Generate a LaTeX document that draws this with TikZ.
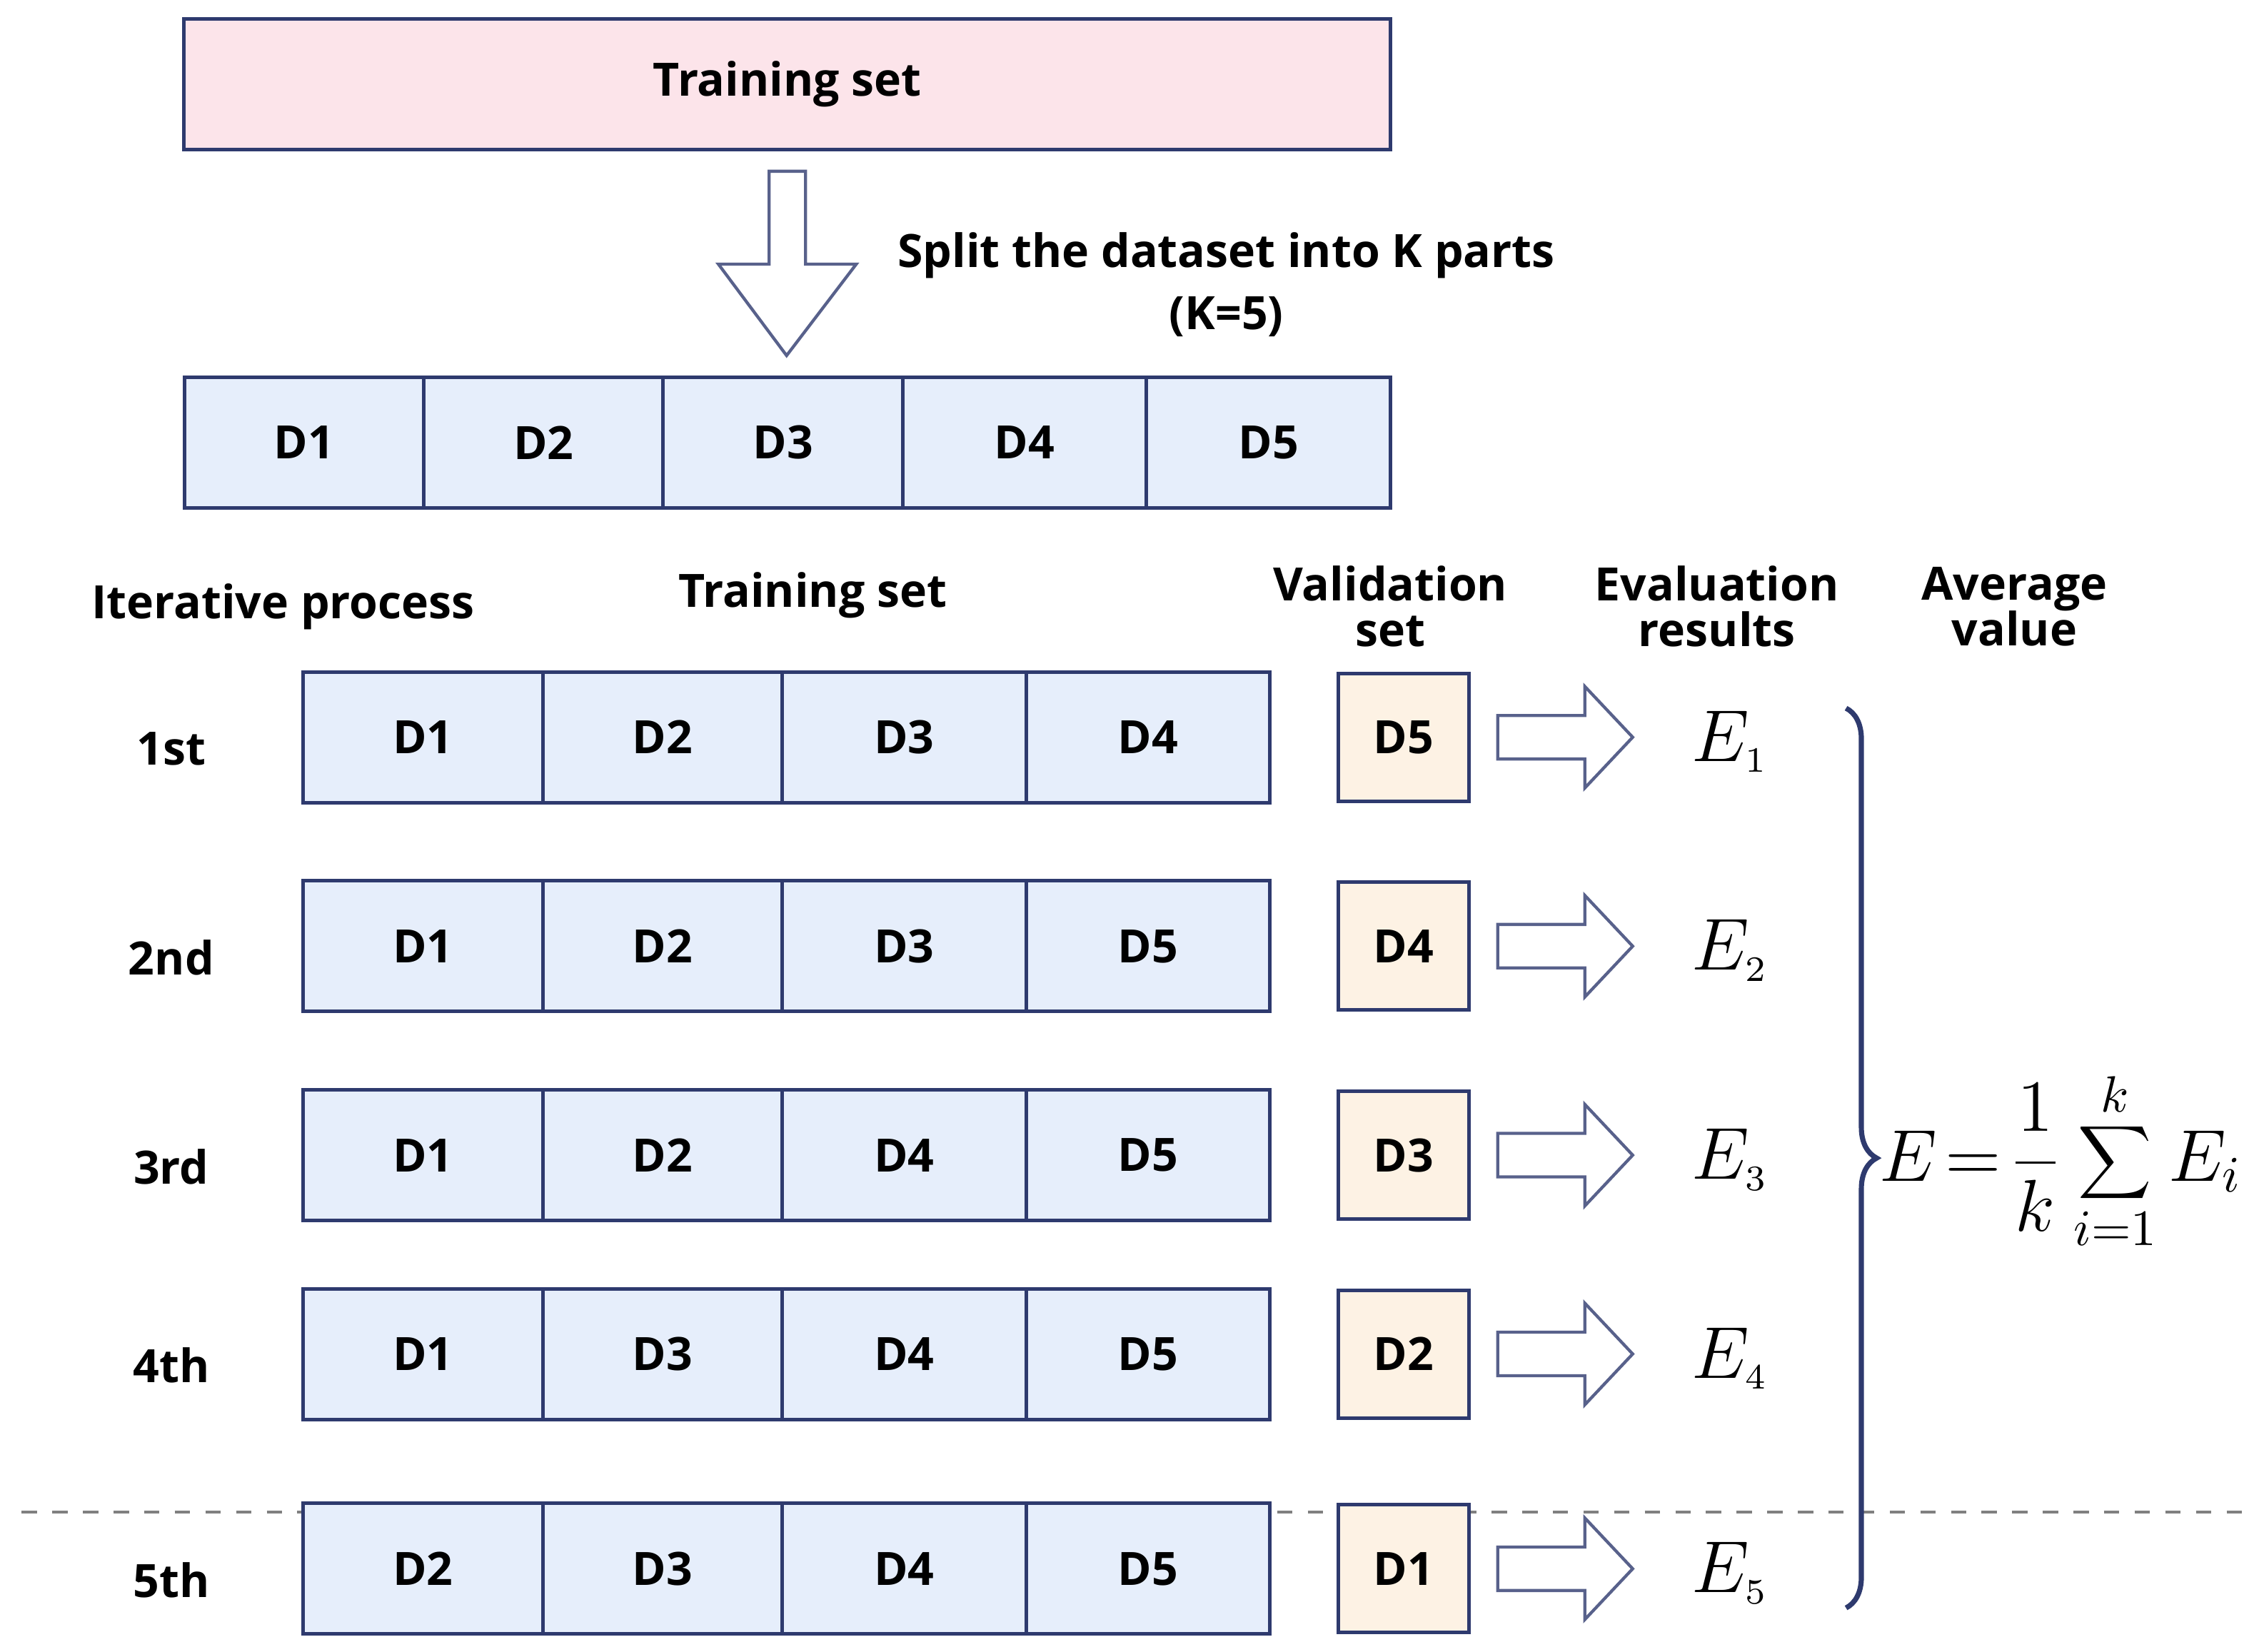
\documentclass[tikz,border=0pt]{standalone}
\usepackage{fontspec}
\setmainfont{Open Sans}
\usetikzlibrary{decorations.pathreplacing}
\definecolor{navy}{HTML}{2E3A6E}
\definecolor{pinkf}{HTML}{FCE4EA}
\definecolor{bluef}{HTML}{E6EEFB}
\definecolor{orf}{HTML}{FDF2E4}
\begin{document}
\begin{tikzpicture}[x=0.01cm,y=-0.01cm,
  txt/.style={font=\fontsize{9}{11}\selectfont\bfseries,align=center},
  cell/.style={draw=navy,line width=0.7pt,fill=bluef,minimum height=0.9cm,inner sep=0,font=\fontsize{9}{11}\selectfont\bfseries},
  val/.style={draw=navy,line width=0.7pt,fill=orf,minimum width=0.9cm,minimum height=0.88cm,inner sep=0,font=\fontsize{9}{11}\selectfont\bfseries},
  harrow/.style={draw=navy!80,line width=0.6pt,fill=white},
  ee/.style={font=\fontsize{14}{16}\selectfont}]
\useasboundingbox (0,0) rectangle (1560,1138);
\coordinate (dl) at (15,1042); \coordinate (dr) at (1555,1042);
\draw[gray,dashed,line width=0.5pt] (dl)--(dr);
\node[draw=navy,line width=0.7pt,fill=pinkf,minimum width=8.31cm,minimum height=0.9cm,font=\fontsize{9}{11}\selectfont\bfseries] (ts) at (542.5,58) {Training set};
\draw[harrow] (530,118)--(555,118)--(555,182)--(590,182)--(542,245)--(495,182)--(530,182)--cycle;
\node[txt] (split) at (845,176) {Split the dataset into K parts};
\node[txt] (k5) at (845,218) {(K=5)};
\foreach \a/\b/\t [count=\i] in {127/292/D1,292/457/D2,457/622/D3,622/790/D4,790/958/D5}
  \node[cell,minimum width={(\b-\a)*0.01cm}] (p\i) at ({(\a+\b)/2},305) {\t};
\node[txt] (h1) at (195,418) {Iterative process};
\node[txt] (h2) at (560,410) {Training set};
\node[txt] (h3) at (958,418) {Validation\\[-2pt]set};
\node[txt] (h4) at (1183,418) {Evaluation\\[-2pt]results};
\node[txt] (h5) at (1388,418) {Average\\[-2pt]value};
\foreach \y/\lab/\a/\b/\c/\d/\v [count=\r] in {508/1st/D1/D2/D3/D4/D5,652/2nd/D1/D2/D3/D5/D4,796/3rd/D1/D2/D4/D5/D3,933/4th/D1/D3/D4/D5/D2,1081/5th/D2/D3/D4/D5/D1}{
  \node[txt] (l\r) at (118,\y+8) {\lab};
  \node[cell,minimum width=1.65cm] (c\r a) at (291.5,\y) {\a};
  \node[cell,minimum width=1.65cm] (c\r b) at (456.5,\y) {\b};
  \node[cell,minimum width=1.68cm] (c\r c) at (623,\y) {\c};
  \node[cell,minimum width=1.68cm] (c\r d) at (791,\y) {\d};
  \node[val] (v\r) at (967,\y) {\v};
  \draw[harrow] (1032,\y-15)--(1092,\y-15)--(1092,\y-35)--(1125,\y)--(1092,\y+35)--(1092,\y+15)--(1032,\y+15)--cycle;
  \node[ee] (e\r) at (1192,\y+3) {$E_{\scriptscriptstyle\r}$};
}
\draw[navy,line width=1pt,decorate,decoration={brace,amplitude=6pt}] (1272,488) -- (1272,1108);
\node[ee] (f) at (1420,800) {$\displaystyle E\!=\!\frac{1}{k}\sum_{i=1}^{k}E_i$};
\end{tikzpicture}
\end{document}
